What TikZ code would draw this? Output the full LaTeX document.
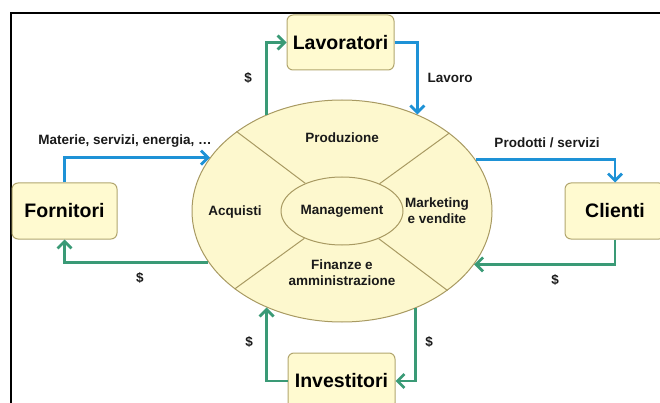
\documentclass[tikz,border=0pt]{standalone}
\usepackage{fontspec}
\setmainfont{Liberation Sans}
\usetikzlibrary{shapes.geometric,arrows.meta}

\definecolor{boxfill}{RGB}{255,250,208}
\definecolor{boxedge}{RGB}{178,166,110}
\definecolor{ellfill}{RGB}{253,248,206}
\definecolor{elledge}{RGB}{168,154,98}
\definecolor{flowblue}{RGB}{30,146,214}
\definecolor{flowgreen}{RGB}{58,154,118}
\definecolor{ink}{RGB}{26,26,26}

\tikzset{
  party/.style={draw=boxedge, fill=boxfill, line width=1pt, rounded corners=6pt,
    inner sep=0pt, font=\fontsize{19.5}{22}\selectfont\bfseries, text=black},
  area/.style={font=\fontsize{13.5}{16}\selectfont\bfseries, text=ink, align=center, inner sep=0pt},
  tag/.style={font=\fontsize{13.5}{16}\selectfont\bfseries, text=ink, inner sep=0pt},
  divider/.style={draw=elledge, line width=1pt},
  goods/.style={draw=flowblue, line width=2.8pt, line join=miter,
    -{Straight Barb[length=7pt,width=14pt]}},
  money/.style={draw=flowgreen, line width=2.8pt, line join=miter,
    -{Straight Barb[length=7pt,width=14pt]}}
}

\begin{document}
\begin{tikzpicture}[x=1pt,y=-1pt]
  \useasboundingbox (0,0) rectangle (660,403);

  % frame
  \draw[black!35, line width=2.6pt] (11,403) -- (11,13) -- (660,13);
  \draw[black, line width=1.4pt] (11,403) -- (11,13) -- (660,13);

  % the company: outer ring of functions around management
  \node[ellipse, draw=elledge, fill=ellfill, line width=1pt,
        minimum width=300, minimum height=222, inner sep=0pt] (ell) at (342,211) {};
  \node[ellipse, draw=elledge, fill=ellfill, line width=1pt,
        minimum width=122, minimum height=68, inner sep=0pt, area] (mgmt) at (342,211) {Management};
  \draw[divider] (mgmt.143.6) -- (ell.143.6);
  \draw[divider] (mgmt.36.5)  -- (ell.36.5);
  \draw[divider] (mgmt.216.4) -- (ell.216.4);
  \draw[divider] (mgmt.323.5) -- (ell.323.5);

  \node[area] (prod) at (342,138) {Produzione};
  \node[area] (acq)  at (235,212) {Acquisti};
  \node[area] (mkt)  at (437,211) {Marketing\\e vendite};
  \node[area] (fin)  at (342,273) {Finanze e\\amministrazione};

  % stakeholders
  \node[party, minimum width=107, minimum height=55] (lav)  at (340.5,42.5) {Lavoratori};
  \node[party, minimum width=105, minimum height=56] (forn) at (64.5,211) {Fornitori};
  \node[party, minimum width=100, minimum height=56] (cli)  at (615,211) {Clienti};
  \node[party, minimum width=107, minimum height=56] (inv)  at (341.5,381) {Investitori};

  % flows
  \draw[money] (ell.128.4) |- (lav.west);
  \draw[goods] (lav.east) -| (ell.52.3);
  \draw[goods] (forn.north) |- (ell.158.7);
  \draw[money] (ell.201.8) -| (forn.south);
  \draw[goods] (ell.21.9) -| (cli.north);
  \draw[money] (cli.south) |- (ell.338.7);
  \draw[money] (inv.west) -| (ell.232.1);
  \draw[money] (ell.307.7) |- (inv.east);

  % flow labels
  \node[tag] (t1) at (248,78)  {\$};
  \node[tag] (t2) at (450,78)  {Lavoro};
  \node[tag] (t3) at (125,141) {Materie, servizi, energia, \dots};
  \node[tag] (t4) at (140,278) {\$};
  \node[tag] (t5) at (547,143) {Prodotti / servizi};
  \node[tag] (t6) at (555,280) {\$};
  \node[tag] (t7) at (249,342) {\$};
  \node[tag] (t8) at (429,342) {\$};
\end{tikzpicture}
\end{document}
